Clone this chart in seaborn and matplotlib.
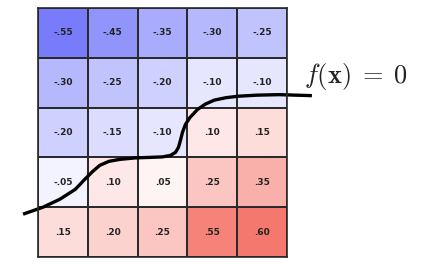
import numpy as np
import matplotlib
matplotlib.use("Agg")
import matplotlib.pyplot as plt
import seaborn as sns
from matplotlib.colors import LinearSegmentedColormap

values = [
    [-0.55, -0.45, -0.35, -0.30, -0.25],
    [-0.30, -0.25, -0.20, -0.10, -0.10],
    [-0.20, -0.15, -0.10, 0.10, 0.15],
    [-0.05, 0.10, 0.05, 0.25, 0.35],
    [0.15, 0.20, 0.25, 0.55, 0.60],
]
curve_x = [-0.3, 0.1, 0.44, 0.75, 0.94, 1.1, 1.24, 1.42, 1.64, 1.95, 2.24, 2.5, 2.66, 2.76,
           2.82, 2.86, 2.9, 2.96, 3.05, 3.2, 3.36, 3.54, 3.78, 4.04, 4.4, 4.84, 5.5]
curve_y = [4.14, 4.0, 3.84, 3.64, 3.44, 3.28, 3.16, 3.08, 3.04, 3.01, 3.0, 2.99, 2.96, 2.9,
           2.8, 2.66, 2.5, 2.34, 2.2, 2.04, 1.93, 1.85, 1.8, 1.77, 1.75, 1.74, 1.76]
label_text = r"$f(\mathbf{x})\;=\;0$"


def fmt(v):
    s = f"{v:.2f}"
    return s.replace("0.", ".")


labels = np.array([[fmt(v) for v in row] for row in values])

plt.rcParams["mathtext.fontset"] = "cm"
cmap = LinearSegmentedColormap.from_list("bwr_soft", ["#6C71FA", "#FFFFFF", "#F5786E"])

fig = plt.figure(figsize=(4.21, 2.63), dpi=100)
ax = fig.add_axes([38 / 421, 6 / 263, 249 / 421, 249 / 263])
sns.heatmap(np.array(values), annot=labels, fmt="", cmap=cmap, vmin=-0.6, vmax=0.6,
            cbar=False, linewidths=1.2, linecolor="#2a2a2a", square=False, ax=ax,
            annot_kws={"fontsize": 6.5, "fontweight": "bold", "color": "#222222"})
ax.set_xticks([])
ax.set_yticks([])
for s in ax.spines.values():
    s.set_visible(True)
    s.set_color("#2a2a2a")
    s.set_linewidth(1.2)

ax.plot(curve_x, curve_y, color="black", linewidth=2.4, clip_on=False,
        solid_capstyle="butt")
ax.text(5.35, 1.38, label_text, fontsize=19, ha="left", va="center", color="#222222")

fig.savefig("out.png", dpi=100)
